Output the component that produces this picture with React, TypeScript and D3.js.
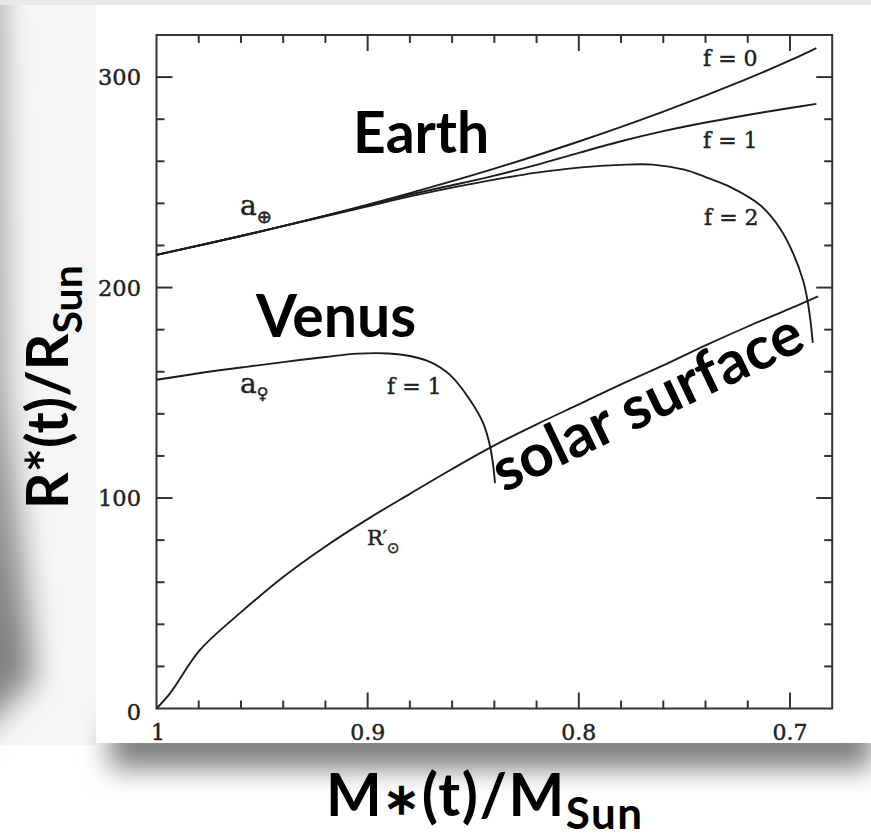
import React, { useEffect, useRef } from 'react';
import * as d3 from 'd3';

// Axis tick labels
const massTicks = [1, 0.9, 0.8, 0.7];
const radiusTicks = [0, 100, 200, 300];

// Earth orbit, f = 0
const earthF0Mass = [1, 0.96, 0.92, 0.88, 0.84, 0.8, 0.76, 0.72, 0.7, 0.6875];
const earthF0Radius = [215.5, 224.5, 234.2, 244.9, 256.5, 269.4, 283.6, 299.3, 307.9, 313.8];

// Earth orbit, f = 1
const earthF1Mass = [1, 0.96, 0.92, 0.9, 0.88, 0.86, 0.84, 0.82, 0.8, 0.78, 0.76, 0.74, 0.72, 0.7, 0.6875];
const earthF1Radius = [215.5, 224.5, 234.1, 239.1, 244.2, 248.6, 253.2, 258.3, 264, 269.5, 274.3, 278.4, 282, 285.3, 287.3];

// Earth orbit, f = 2
const earthF2Mass = [1, 0.96, 0.92, 0.9, 0.88, 0.86, 0.84, 0.82, 0.8, 0.78, 0.765, 0.75, 0.74, 0.7284, 0.7142, 0.7047, 0.6984, 0.6937, 0.692, 0.6904, 0.6892];
const earthF2Radius = [215.5, 224.5, 233.9, 238.6, 243.3, 247.5, 251.3, 254.6, 257, 258.3, 258.4, 256, 252.5, 247.8, 239.2, 228.1, 216, 203.1, 195.5, 185.1, 173.7];

// Venus orbit, f = 1
const venusMass = [1, 0.98, 0.96, 0.94, 0.92, 0.905, 0.89, 0.88, 0.87, 0.861, 0.8516, 0.8453, 0.842, 0.8405, 0.8397];
const venusRadius = [156.2, 159.3, 162, 164.6, 167, 168.6, 168.7, 167.5, 164.5, 158.5, 146.7, 135.6, 124.5, 115, 107.1];

// Solar photosphere R'
const sunMass = [1, 0.9936, 0.9794, 0.9605, 0.94, 0.92, 0.9, 0.88, 0.86, 0.84, 0.82, 0.8, 0.78, 0.76, 0.74, 0.72, 0.7, 0.6867];
const sunRadius = [0, 7.2, 27.8, 45.3, 62.5, 77, 90, 102, 113.8, 125, 135, 144.5, 154, 163, 172.5, 181.5, 190, 195.8];

const W = 871;
const H = 839;

export default function App() {
  const ref = useRef<SVGSVGElement>(null);

  useEffect(() => {
    const svg = d3.select(ref.current);
    svg.selectAll('*').remove();

    const x = d3.scaleLinear().domain([1, 0.68]).range([156.5, 832.2]);
    const y = d3.scaleLinear().domain([0, 320]).range([708.5, 35]);

    const defs = svg.append('defs');
    defs.append('filter').attr('id', 'blurL').attr('x', '-100%').attr('y', '-20%').attr('width', '300%').attr('height', '140%')
      .append('feGaussianBlur').attr('stdDeviation', 15);
    defs.append('filter').attr('id', 'blurB').attr('x', '-20%').attr('y', '-100%').attr('width', '140%').attr('height', '300%')
      .append('feGaussianBlur').attr('stdDeviation', 14);
    const lg = defs.append('linearGradient').attr('id', 'leftShade').attr('x1', 0).attr('y1', 0).attr('x2', 0).attr('y2', 1);
    lg.append('stop').attr('offset', '0%').attr('stop-color', '#a4a4a4');
    lg.append('stop').attr('offset', '55%').attr('stop-color', '#9c9c9c');
    lg.append('stop').attr('offset', '85%').attr('stop-color', '#808080');
    lg.append('stop').attr('offset', '100%').attr('stop-color', '#949494');

    // page background and soft shadows around the panel
    svg.append('rect').attr('width', W).attr('height', H).attr('fill', '#ffffff');
    svg.append('rect').attr('x', 0).attr('y', 0).attr('width', 96).attr('height', 745).attr('fill', '#f6f6f6');
    svg.append('path').attr('d', 'M-60,-20 L2,-20 L6,380 L34,680 L-60,770 Z')
      .attr('fill', 'url(#leftShade)').attr('filter', 'url(#blurL)');
    svg.append('rect').attr('x', 110).attr('y', 722).attr('width', 762).attr('height', 46)
      .attr('fill', '#7a7a7a').attr('filter', 'url(#blurB)');
    svg.append('rect').attr('x', 0).attr('y', 0).attr('width', W).attr('height', 5).attr('fill', '#e8e8e8');
    svg.append('rect').attr('x', 96).attr('y', 5).attr('width', W - 96).attr('height', 738).attr('fill', '#ffffff');

    const ink = '#1c1c1c';
    const g = svg.append('g');

    // frame
    g.append('rect')
      .attr('x', x(1)).attr('y', y(320))
      .attr('width', x(0.68) - x(1)).attr('height', y(0) - y(320))
      .attr('fill', 'none').attr('stroke', '#333').attr('stroke-width', 2);

    const xMinor = d3.range(0.98, 0.685, -0.02).map((v) => +v.toFixed(2));
    const yMinor = d3.range(20, 320, 20);
    const isMajorX = (v: number) => massTicks.some((t) => Math.abs(t - v) < 1e-6);
    const isMajorY = (v: number) => radiusTicks.some((t) => t === v);

    const tickStroke = (sel: any) => sel.attr('stroke', '#333').attr('stroke-width', 2);

    xMinor.forEach((v) => {
      const len = isMajorX(v) ? 16 : 8;
      tickStroke(g.append('line').attr('x1', x(v)).attr('x2', x(v)).attr('y1', y(0)).attr('y2', y(0) - len));
      tickStroke(g.append('line').attr('x1', x(v)).attr('x2', x(v)).attr('y1', y(320)).attr('y2', y(320) + len));
    });
    yMinor.forEach((v) => {
      const len = isMajorY(v) ? 16 : 8;
      tickStroke(g.append('line').attr('x1', x(1)).attr('x2', x(1) + len).attr('y1', y(v)).attr('y2', y(v)));
      tickStroke(g.append('line').attr('x1', x(0.68)).attr('x2', x(0.68) - len).attr('y1', y(v)).attr('y2', y(v)));
    });

    const serif = "'DejaVu Serif', serif";
    const heavy = (sel: any) => sel.attr('fill', '#222').attr('stroke', '#222').attr('stroke-width', 0.45);
    heavy(g.selectAll('.xl').data(massTicks).enter().append('text')
      .attr('x', (d) => x(d) + (d === 1 ? 1.5 : 0)).attr('y', 740)
      .attr('text-anchor', 'middle').attr('font-family', serif).attr('font-size', 22)
      .text((d) => String(d)));
    heavy(g.selectAll('.yl').data(radiusTicks).enter().append('text')
      .attr('x', 141).attr('y', (d) => y(d) + 8 + (d === 0 ? 3 : 0))
      .attr('text-anchor', 'end').attr('font-family', serif).attr('font-size', 22.5)
      .text((d) => String(d)));

    // curves
    const line = d3.line<[number, number]>()
      .x((d) => x(d[0])).y((d) => y(d[1]))
      .curve(d3.curveCatmullRom.alpha(0.5));
    const series: [number[], number[]][] = [
      [earthF0Mass, earthF0Radius],
      [earthF1Mass, earthF1Radius],
      [earthF2Mass, earthF2Radius],
      [venusMass, venusRadius],
      [sunMass, sunRadius],
    ];
    series.forEach(([m, r]) => {
      g.append('path')
        .attr('d', line(m.map((v, i) => [v, r[i]] as [number, number])))
        .attr('fill', 'none').attr('stroke', ink).attr('stroke-width', 1.9);
    });

    // curve annotations
    const note = (tx: number, ty: number, s: string) =>
      heavy(g.append('text').attr('x', tx).attr('y', ty).attr('font-family', serif).attr('font-size', 22).text(s));
    note(703, 66, 'f = 0');
    note(703, 148, 'f = 1');
    note(704, 225, 'f = 2');
    note(387, 394, 'f = 1');

    const sym = "'DejaVu Sans', sans-serif";
    const aE = heavy(g.append('text').attr('x', 240).attr('y', 215).attr('font-family', serif).attr('font-size', 28));
    aE.append('tspan').text('a');
    aE.append('tspan').attr('dy', 8).attr('font-size', 18).attr('font-family', sym).text('⊕');

    const aV = heavy(g.append('text').attr('x', 240).attr('y', 393).attr('font-family', serif).attr('font-size', 28));
    aV.append('tspan').text('a');
    aV.append('tspan').attr('dy', 6).attr('font-size', 16).attr('font-family', sym).text('♀');

    const rS = heavy(g.append('text').attr('x', 367).attr('y', 545).attr('font-family', serif).attr('font-size', 21));
    rS.append('tspan').text('R');
    rS.append('tspan').attr('dy', -1).attr('font-size', 18).text('′');
    rS.append('tspan').attr('dy', 9).attr('font-size', 15).attr('font-family', sym).text('⊙');

    // bold overlay labels
    const bold = "Lato, 'Open Sans', sans-serif";
    const big = (tx: number, ty: number, s: string, size: number) =>
      g.append('text').attr('x', tx).attr('y', ty).attr('font-family', bold).attr('font-weight', 700)
        .attr('font-size', size).attr('fill', '#000').text(s);
    big(353, 153, 'Earth', 57);
    big(256, 337, 'Venus', 59);
    g.append('text')
      .attr('transform', 'translate(504,493) rotate(-25.5)')
      .attr('font-family', bold).attr('font-weight', 700).attr('font-size', 60).attr('fill', '#000')
      .text('solar surface');

    // axis titles
    const yt = svg.append('text')
      .attr('transform', 'translate(68,509) rotate(-90)')
      .attr('font-family', bold).attr('font-weight', 700).attr('font-size', 57).attr('fill', '#000');
    yt.append('tspan').text('R*(t)/R');
    yt.append('tspan').attr('dy', 14).attr('font-size', 41).text('Sun');

    const xt = svg.append('text')
      .attr('x', 326).attr('y', 816)
      .attr('font-family', bold).attr('font-weight', 700).attr('font-size', 59).attr('fill', '#000')
      .attr('letter-spacing', 1.5);
    xt.append('tspan').text('M');
    xt.append('tspan').attr('font-size', 44).attr('dy', -2).text('∗');
    xt.append('tspan').attr('dy', 2).text('(t)/M');
    xt.append('tspan').attr('dy', 13).attr('font-size', 44).text('Sun');
  }, []);

  return (
    <svg ref={ref} width={W} height={H} style={{ position: 'absolute', left: 0, top: 0, display: 'block' }} />
  );
}
